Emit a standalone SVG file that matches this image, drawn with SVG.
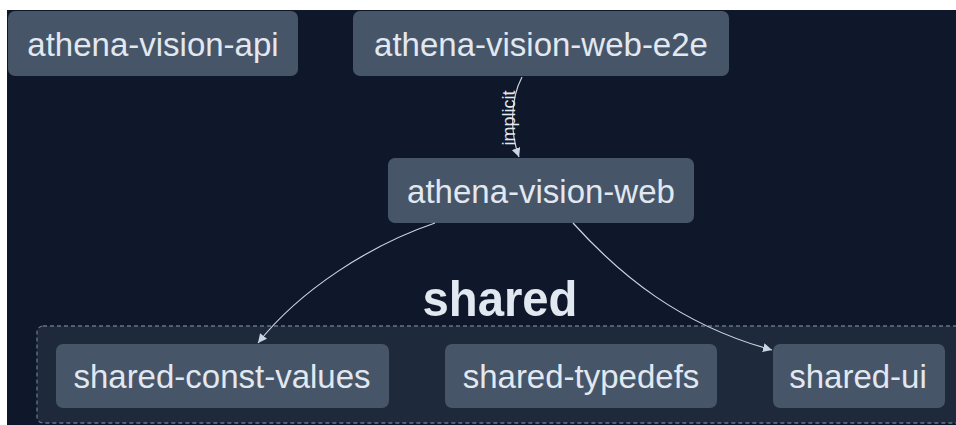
<svg xmlns="http://www.w3.org/2000/svg" width="956" height="425" viewBox="0 0 956 425">
  <defs>
    <style>
      .node rect { fill: #475569; }
      .node text { fill: #e2e8f0; font-family: "Liberation Sans", Arial, sans-serif; font-size: 33px; text-anchor: middle; }
      .edge { fill: none; stroke: #cbd5e1; stroke-width: 1.2; marker-end: url(#arrow); }
      .edge-label { fill: #e2e8f0; font-family: "Liberation Sans", Arial, sans-serif; font-size: 18px; text-anchor: middle; }
    </style>
    <marker id="arrow" viewBox="0 0 10 10" refX="10" refY="5" markerWidth="9" markerHeight="9" markerUnits="userSpaceOnUse" orient="auto">
      <path d="M0,0 L10,5 L0,10 z" fill="#cbd5e1"/>
    </marker>
  </defs>

  <!-- page margin and canvas -->
  <rect x="0" y="0" width="956" height="425" fill="#ffffff"/>
  <rect x="7" y="10" width="949" height="415" fill="#0f172a"/>

  <!-- project group: shared -->
  <g id="group-shared">
    <rect x="37" y="326" width="940" height="97" rx="6" fill="#1e293b" stroke="#64748b" stroke-width="1.3" stroke-dasharray="4 3"/>
    <text x="500" y="316" fill="#e2e8f0" font-family="Liberation Sans, Arial, sans-serif" font-size="50" font-weight="bold" text-anchor="middle" textLength="155" lengthAdjust="spacingAndGlyphs">shared</text>
  </g>

  <g id="node-athena-vision-api" class="node">
    <rect x="8" y="11" width="290" height="65" rx="7"/>
    <text x="153" y="56">athena-vision-api</text>
  </g>

  <g id="node-athena-vision-web-e2e" class="node">
    <rect x="353" y="11" width="376" height="65" rx="7"/>
    <text x="541" y="56">athena-vision-web-e2e</text>
  </g>

  <g id="node-athena-vision-web" class="node">
    <rect x="388" y="158" width="306" height="65" rx="7"/>
    <text x="541" y="203">athena-vision-web</text>
  </g>

  <g id="node-shared-const-values" class="node">
    <rect x="56" y="344" width="333" height="64" rx="7"/>
    <text x="222" y="388">shared-const-values</text>
  </g>

  <g id="node-shared-typedefs" class="node">
    <rect x="445" y="344" width="272" height="64" rx="7"/>
    <text x="581" y="388">shared-typedefs</text>
  </g>

  <g id="node-shared-ui" class="node">
    <rect x="773" y="344" width="172" height="64" rx="7"/>
    <text x="858" y="388">shared-ui</text>
  </g>

  <g id="connectors">
    <path class="edge" d="M522,77 C510,100 510,132 519,157"/>
    <text class="edge-label" transform="translate(515,118) rotate(-90)">implicit</text>
    <path class="edge" d="M435,223 C370,245 300,290 258,343"/>
    <path class="edge" d="M573,223 C620,275 680,325 772,350"/>
  </g>
</svg>
